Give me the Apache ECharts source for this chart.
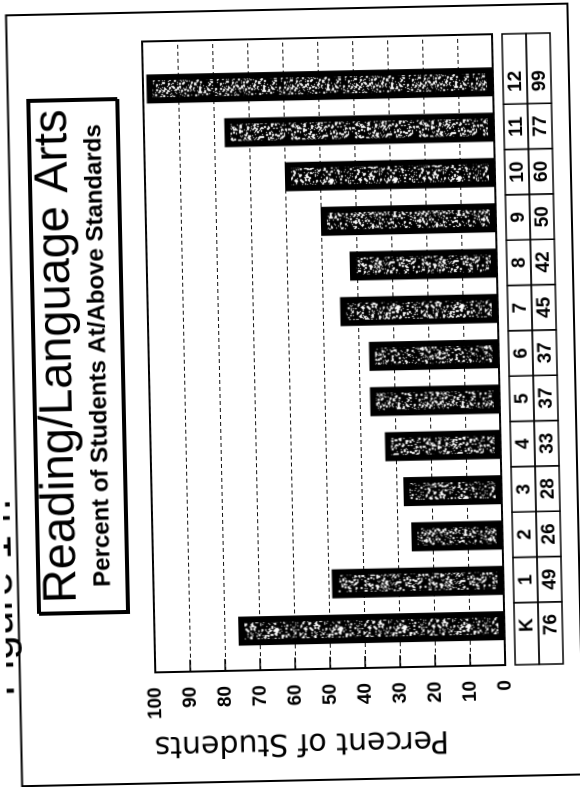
<!DOCTYPE html>
<html>
<head>
<meta charset="utf-8">
<script src="https://cdn.jsdelivr.net/npm/echarts@6/dist/echarts.min.js"></script>
<style>
  html, body { margin: 0; padding: 0; background: #fff; width: 580px; height: 787px; overflow: hidden; }
  /* the printed page is laid out landscape and turned a quarter turn */
  #sheet {
    position: absolute; left: -103.5px; top: 103.5px;
    width: 787px; height: 580px;
    transform: rotate(-91.2deg); transform-origin: 50% 50%;
    background: #fff;
  }
  #chart { width: 787px; height: 580px; }
</style>
</head>
<body>
<div id="sheet"><div id="chart"></div></div>
<script>
// Grade levels and percent of students at/above standards
const grades = ['K', '1', '2', '3', '4', '5', '6', '7', '8', '9', '10', '11', '12'];
const percentAtAbove = [76, 49, 26, 28, 33, 37, 37, 45, 42, 50, 60, 77, 99];
// Percent axis ticks
const percentMin = 0;
const percentMax = 100;
const percentStep = 10;

const sans = 'Liberation Sans, Arial, sans-serif';

// speckled dark fill used for the bars
function hash(n) {
  const s = Math.sin(n * 12.9898 + 78.233) * 43758.5453;
  return s - Math.floor(s);
}
function speckleTile() {
  const size = 64;
  const c = document.createElement('canvas');
  c.width = size; c.height = size;
  const g = c.getContext('2d');
  g.fillStyle = '#000';
  g.fillRect(0, 0, size, size);
  g.fillStyle = '#fff';
  for (let k = 0; k < 700; k++) {
    const x = Math.floor(hash(k * 3 + 1) * size);
    const y = Math.floor(hash(k * 3 + 2) * size);
    const s = hash(k * 3 + 3) < 0.7 ? 1 : 2;
    g.fillRect(x, y, s, s);
  }
  return c;
}

const xMin = -0.87, xMax = 13.05;   // category positions with room at both ends of the frame
const tableRows = 2;

const chart = echarts.init(document.getElementById('chart'), null, { devicePixelRatio: 2 });

chart.setOption({
  animation: false,
  backgroundColor: '#fff',
  grid: [
    { left: 118, top: 149, width: 631, height: 350, show: true, borderColor: '#000', borderWidth: 2, backgroundColor: 'transparent' },
    { left: 118, top: 509, width: 631, height: 48, show: false }
  ],
  xAxis: [
    { gridIndex: 0, type: 'value', min: xMin, max: xMax, show: false, splitLine: { show: false } },
    { gridIndex: 1, type: 'value', min: xMin, max: xMax, show: false, splitLine: { show: false } }
  ],
  yAxis: [
    {
      gridIndex: 0, type: 'value', min: percentMin, max: percentMax, interval: percentStep,
      name: 'Percent of Students', nameLocation: 'middle', nameGap: 58,
      nameTextStyle: { fontFamily: 'DejaVu Sans', fontSize: 30, color: '#000', padding: [0, 0, 0, 60] },
      axisLine: { show: true, onZero: false, lineStyle: { color: '#000', width: 2 } },
      axisTick: { show: true, inside: true, length: 12, lineStyle: { color: '#000', width: 1.5 } },
      axisLabel: { fontFamily: sans, fontWeight: 'bold', fontSize: 19, color: '#000', margin: 15 },
      splitLine: { show: true, lineStyle: { color: '#111', width: 1, type: [4, 3] } }
    },
    { gridIndex: 1, type: 'value', min: 0, max: tableRows, show: false, splitLine: { show: false } }
  ],
  series: [
    {
      type: 'bar',
      xAxisIndex: 0, yAxisIndex: 0,
      barWidth: 29,
      data: percentAtAbove.map((v, i) => [i, v]),
      itemStyle: {
        color: { image: speckleTile(), repeat: 'repeat' },
        borderColor: '#000',
        borderWidth: 6
      },
      z: 3
    },
    {
      // data table under the plot: grade row and value row
      type: 'custom',
      xAxisIndex: 1, yAxisIndex: 1,
      data: grades.map((g, i) => [i, g, percentAtAbove[i]]),
      renderItem: function (params, api) {
        const i = api.value(0);
        const cs = params.coordSys;
        const last = grades.length - 1;
        const x0 = i === 0 ? cs.x : api.coord([i - 0.5, 0])[0];
        const x1 = i === last ? cs.x + cs.width : api.coord([i + 0.5, 0])[0];
        const cx = api.coord([i, 0])[0];
        const yTop = api.coord([i, 2])[1];
        const yMid = api.coord([i, 1])[1];
        const yBot = api.coord([i, 0])[1];
        const txt = { fontFamily: sans, fontWeight: 'bold', fontSize: 19, fill: '#000', align: 'center', verticalAlign: 'middle' };
        return {
          type: 'group',
          children: [
            { type: 'rect', shape: { x: x0, y: yTop, width: x1 - x0, height: yMid - yTop }, style: { stroke: '#000', lineWidth: 1.5, fill: null } },
            { type: 'rect', shape: { x: x0, y: yMid, width: x1 - x0, height: yBot - yMid }, style: { stroke: '#000', lineWidth: 1.5, fill: null } },
            { type: 'text', x: cx, y: (yTop + yMid) / 2 + 1, style: Object.assign({ text: grades[i] }, txt) },
            { type: 'text', x: cx, y: (yMid + yBot) / 2 + 1, style: Object.assign({ text: String(percentAtAbove[i]) }, txt) }
          ]
        };
      }
    }
  ],
  graphic: [
    // page border
    { type: 'rect', shape: { x: 7, y: 13.5, width: 771, height: 561.5 }, style: { fill: null, stroke: '#000', lineWidth: 2 }, z: 1 },
    // title box
    {
      type: 'rect', shape: { x: 180, y: 33, width: 513, height: 89 },
      style: { fill: '#fff', stroke: '#000', lineWidth: 2, shadowColor: '#000', shadowOffsetX: -2, shadowOffsetY: 2, shadowBlur: 0 },
      z: 5
    },
    { type: 'text', x: 436, y: 58, style: { text: 'Reading/Language Arts', font: '47px ' + sans, fill: '#000', align: 'center', verticalAlign: 'middle' }, z: 6 },
    { type: 'text', x: 436, y: 99, style: { text: 'Percent of Students At/Above Standards', font: 'bold 24px ' + sans, fill: '#000', align: 'center', verticalAlign: 'middle' }, z: 6 },
    // caption above the page
    { type: 'text', x: 97, y: -5, style: { text: 'Figure 14.', font: '44px ' + sans, fill: '#000', align: 'left', verticalAlign: 'middle' }, z: 6 }
  ]
});
</script>
</body>
</html>
